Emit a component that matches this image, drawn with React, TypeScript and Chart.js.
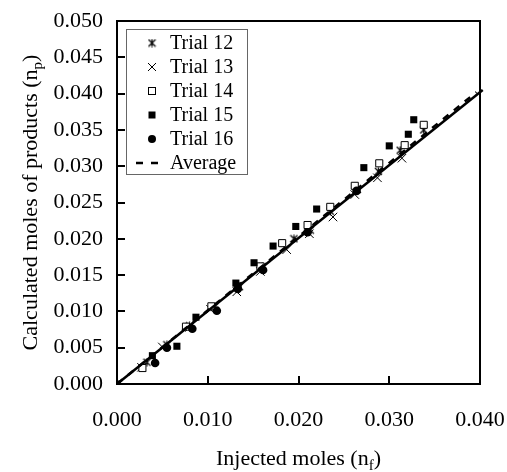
import React, { useEffect, useRef } from 'react';
import { Chart, registerables } from 'chart.js';

Chart.register(...registerables);

// ---- data ----
const xTickValues = [0, 0.01, 0.02, 0.03, 0.04];
const yTickValues = [0, 0.005, 0.01, 0.015, 0.02, 0.025, 0.03, 0.035, 0.04, 0.045, 0.05];

const trial12X = [0.0033, 0.0055, 0.0080, 0.0107, 0.0135, 0.0160, 0.0195, 0.0213, 0.0235, 0.0265, 0.0288, 0.0312, 0.0338];
const trial12Y = [0.0030, 0.0054, 0.0080, 0.0106, 0.0134, 0.0162, 0.0200, 0.0212, 0.0238, 0.0268, 0.0293, 0.0322, 0.0350];

const trial13X = [0.0027, 0.0050, 0.0080, 0.0103, 0.0132, 0.0158, 0.0187, 0.0212, 0.0238, 0.0262, 0.0287, 0.0314];
const trial13Y = [0.0023, 0.0051, 0.0078, 0.0103, 0.0127, 0.0155, 0.0185, 0.0207, 0.0230, 0.0261, 0.0284, 0.0311];

const trial14X = [0.0028, 0.0076, 0.0104, 0.0133, 0.0158, 0.0182, 0.0210, 0.0235, 0.0262, 0.0289, 0.0317, 0.0338];
const trial14Y = [0.0022, 0.0079, 0.0107, 0.0134, 0.0162, 0.0194, 0.0219, 0.0244, 0.0273, 0.0304, 0.0329, 0.0357];

const trial15X = [0, 0.0039, 0.0066, 0.0087, 0.0131, 0.0151, 0.0172, 0.0197, 0.0220, 0.0272, 0.0300, 0.0321, 0.0327];
const trial15Y = [0, 0.0039, 0.0052, 0.0092, 0.0139, 0.0167, 0.0190, 0.0217, 0.0241, 0.0298, 0.0328, 0.0344, 0.0364];

const trial16X = [0.0042, 0.0055, 0.0083, 0.0110, 0.0133, 0.0161, 0.0210, 0.0264];
const trial16Y = [0.0029, 0.0050, 0.0076, 0.0101, 0.0131, 0.0157, 0.0209, 0.0266];

const fitLineX = [0, 0.0403];
const fitLineY = [0, 0.0405];

const avgLineX = [0, 0.0396];
const avgLineY = [0, 0.0402];

const legendLabels = ['Trial 12', 'Trial 13', 'Trial 14', 'Trial 15', 'Trial 16', 'Average'];

const xTitleMain = 'Injected moles (n';
const xTitleSub = 'f';
const yTitleMain = 'Calculated moles of products (n';
const yTitleSub = 'p';

const FONT = '"Liberation Serif", "Times New Roman", serif';

const zip = (xs: number[], ys: number[]) => xs.map((x, i) => ({ x, y: ys[i] }));

function makeStar(): HTMLCanvasElement {
  const c = document.createElement('canvas');
  c.width = 9;
  c.height = 9;
  const g = c.getContext('2d')!;
  g.strokeStyle = '#000';
  g.lineWidth = 1.2;
  g.beginPath();
  g.moveTo(1, 1);
  g.lineTo(8, 8);
  g.moveTo(8, 1);
  g.lineTo(1, 8);
  g.moveTo(4.5, 0.5);
  g.lineTo(4.5, 8.5);
  g.stroke();
  return c;
}

function drawMarker(ctx: CanvasRenderingContext2D, kind: number, x: number, y: number, star: HTMLCanvasElement) {
  ctx.save();
  ctx.strokeStyle = '#000';
  ctx.fillStyle = '#000';
  ctx.lineWidth = 1;
  if (kind === 0) {
    ctx.drawImage(star, x - 4.5, y - 4.5);
  } else if (kind === 1) {
    ctx.beginPath();
    ctx.moveTo(x - 4, y - 4);
    ctx.lineTo(x + 4, y + 4);
    ctx.moveTo(x + 4, y - 4);
    ctx.lineTo(x - 4, y + 4);
    ctx.stroke();
  } else if (kind === 2) {
    ctx.fillStyle = '#fff';
    ctx.fillRect(x - 3.5, y - 3.5, 7, 7);
    ctx.strokeRect(x - 3.5, y - 3.5, 7, 7);
  } else if (kind === 3) {
    ctx.fillRect(x - 3.5, y - 3.5, 7, 7);
  } else if (kind === 4) {
    ctx.beginPath();
    ctx.arc(x, y, 4, 0, Math.PI * 2);
    ctx.fill();
  } else {
    ctx.lineWidth = 2.5;
    ctx.beginPath();
    ctx.moveTo(x - 16, y);
    ctx.lineTo(x - 9, y);
    ctx.moveTo(x - 1, y);
    ctx.lineTo(x + 6, y);
    ctx.stroke();
  }
  ctx.restore();
}

function drawSubText(
  ctx: CanvasRenderingContext2D,
  main: string,
  sub: string,
  close: string,
  size: number,
  subSize: number,
) {
  ctx.font = `${size}px ${FONT}`;
  const w1 = ctx.measureText(main).width;
  const w3 = ctx.measureText(close).width;
  ctx.font = `${subSize}px ${FONT}`;
  const w2 = ctx.measureText(sub).width;
  const total = w1 + w2 + w3;
  let x = -total / 2;
  ctx.textAlign = 'left';
  ctx.textBaseline = 'alphabetic';
  ctx.font = `${size}px ${FONT}`;
  ctx.fillText(main, x, 0);
  x += w1;
  ctx.font = `${subSize}px ${FONT}`;
  ctx.fillText(sub, x, 5);
  x += w2;
  ctx.font = `${size}px ${FONT}`;
  ctx.fillText(close, x, 0);
}

export default function App() {
  const ref = useRef<HTMLCanvasElement | null>(null);

  useEffect(() => {
    if (!ref.current) return;
    const star = makeStar();

    const decor = {
      id: 'decor',
      afterDraw(chart: any) {
        const { ctx, chartArea } = chart;
        const { left, top, right, bottom } = chartArea;
        const xs = chart.scales.x;
        const ys = chart.scales.y;
        ctx.save();
        ctx.strokeStyle = '#000';
        ctx.lineWidth = 2;
        ctx.strokeRect(left, top, right - left, bottom - top);
        // inward ticks
        ctx.beginPath();
        xTickValues.forEach((v) => {
          const px = Math.round(xs.getPixelForValue(v));
          ctx.moveTo(px, bottom);
          ctx.lineTo(px, bottom - 8);
        });
        yTickValues.forEach((v) => {
          const py = Math.round(ys.getPixelForValue(v));
          ctx.moveTo(left, py);
          ctx.lineTo(left + 8, py);
        });
        ctx.stroke();

        // legend
        const lx = left + 9;
        const ly = top + 8;
        ctx.fillStyle = '#fff';
        ctx.fillRect(lx, ly, 121, 145);
        ctx.strokeStyle = '#666';
        ctx.lineWidth = 1;
        ctx.strokeRect(lx + 0.5, ly + 0.5, 121, 145);
        legendLabels.forEach((label, i) => {
          const cy = ly + 14 + i * 24;
          drawMarker(ctx, i, lx + 26, cy, star);
          ctx.fillStyle = '#000';
          ctx.font = `20px ${FONT}`;
          ctx.textAlign = 'left';
          ctx.textBaseline = 'middle';
          ctx.fillText(label, lx + 44, cy + 1);
        });

        // axis titles
        ctx.fillStyle = '#000';
        ctx.save();
        ctx.translate((left + right) / 2, 465);
        drawSubText(ctx, xTitleMain, xTitleSub, ')', 22, 15);
        ctx.restore();
        ctx.save();
        ctx.translate(37, (top + bottom) / 2);
        ctx.rotate(-Math.PI / 2);
        drawSubText(ctx, yTitleMain, yTitleSub, ')', 22, 15);
        ctx.restore();
        ctx.restore();
      },
    };

    const chart = new Chart(ref.current, {
      type: 'scatter',
      data: {
        datasets: [
          {
            label: 'Fit',
            type: 'line',
            data: zip(fitLineX, fitLineY),
            borderColor: '#000',
            borderWidth: 2.5,
            pointRadius: 0,
            fill: false,
            order: 0,
            clip: 6,
          } as any,
          {
            label: 'Average',
            type: 'line',
            data: zip(avgLineX, avgLineY),
            borderColor: '#000',
            borderWidth: 2.5,
            borderDash: [7, 7],
            pointRadius: 0,
            fill: false,
            order: 0,
          } as any,
          {
            label: 'Trial 15',
            data: zip(trial15X, trial15Y),
            pointStyle: 'rect',
            pointRadius: 5,
            backgroundColor: '#000',
            borderColor: '#000',
            borderWidth: 0,
            order: 1,
          },
          {
            label: 'Trial 16',
            data: zip(trial16X, trial16Y),
            pointStyle: 'circle',
            pointRadius: 4.3,
            backgroundColor: '#000',
            borderColor: '#000',
            borderWidth: 0,
            order: 2,
          },
          {
            label: 'Trial 14',
            data: zip(trial14X, trial14Y),
            pointStyle: 'rect',
            pointRadius: 5,
            backgroundColor: '#fff',
            borderColor: '#000',
            borderWidth: 1,
            order: 3,
          },
          {
            label: 'Trial 13',
            data: zip(trial13X, trial13Y),
            pointStyle: 'crossRot',
            pointRadius: 6,
            backgroundColor: '#000',
            borderColor: '#000',
            borderWidth: 1,
            order: 4,
          },
          {
            label: 'Trial 12',
            data: zip(trial12X, trial12Y),
            pointStyle: star as any,
            pointRadius: 5,
            backgroundColor: '#000',
            borderColor: '#000',
            order: 5,
          },
        ],
      },
      options: {
        animation: false,
        responsive: false,
        maintainAspectRatio: false,
        layout: { padding: { top: 21, right: 27, left: 0, bottom: 0 } },
        plugins: {
          legend: { display: false },
          tooltip: { enabled: false },
        },
        scales: {
          x: {
            type: 'linear',
            min: 0,
            max: 0.04,
            afterFit: (s: any) => {
              s.height = 88;
              s.paddingLeft = 0;
              s.paddingRight = 0;
            },
            afterBuildTicks: (s: any) => {
              s.ticks = xTickValues.map((v) => ({ value: v }));
            },
            ticks: {
              callback: (v: any) => Number(v).toFixed(3),
              font: { family: FONT, size: 22 },
              color: '#000',
              padding: 23,
              maxRotation: 0,
            },
            grid: { display: false, drawTicks: false },
            border: { display: false },
          },
          y: {
            type: 'linear',
            min: 0,
            max: 0.05,
            afterFit: (s: any) => {
              s.width = 117;
              s.paddingTop = 0;
              s.paddingBottom = 0;
            },
            afterBuildTicks: (s: any) => {
              s.ticks = yTickValues.map((v) => ({ value: v }));
            },
            ticks: {
              callback: (v: any) => Number(v).toFixed(3),
              font: { family: FONT, size: 22 },
              color: '#000',
              padding: 14,
            },
            grid: { display: false, drawTicks: false },
            border: { display: false },
          },
        },
      },
      plugins: [decor],
    });
    return () => chart.destroy();
  }, []);

  return (
    <div style={{ position: 'absolute', left: 0, top: 0, width: 507, height: 472, background: '#fff' }}>
      <canvas ref={ref} width={507} height={472} style={{ width: 507, height: 472, display: 'block' }} />
    </div>
  );
}
